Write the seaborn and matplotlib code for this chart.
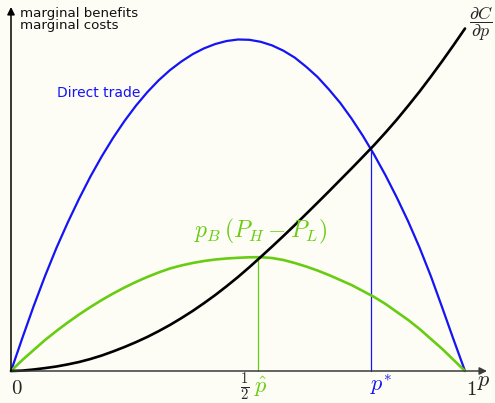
import matplotlib
matplotlib.use('Agg')
import numpy as np
import pandas as pd
import seaborn as sns
import matplotlib.pyplot as plt

# values (heights in px above the p axis)
p = [0.0, 0.025, 0.05, 0.075, 0.10, 0.125, 0.15, 0.175, 0.20, 0.225, 0.25,
     0.275, 0.30, 0.325, 0.35, 0.375, 0.40, 0.425, 0.45, 0.475, 0.50,
     0.525, 0.55, 0.575, 0.60, 0.625, 0.65, 0.675, 0.70, 0.725, 0.75,
     0.775, 0.80, 0.825, 0.85, 0.875, 0.90, 0.925, 0.95, 0.975, 1.0]
direct_trade = [0, 33, 65, 95, 123, 148.5, 172.3, 194.5, 214.7, 233.2, 250,
                265.2, 278.7, 290.6, 300.8, 309.4, 316.8, 322.6, 327, 330, 331.5,
                331.2, 329.2, 325.6, 320.3, 313.4, 304.3, 294.1, 281.7, 268.2, 252.5,
                235.2, 216.2, 195.6, 173.3, 149.4, 123.3, 94.6, 63.2, 31.2, 0]
pb_gap = [0, 11, 21, 31, 40, 48.5, 56.5, 64, 71, 77.5, 83.5,
          89, 94, 98.5, 102.5, 105.5, 108, 110, 111.5, 112.5, 113.2,
          113.7, 113.8, 113, 111, 108, 104.5, 100.5, 96, 91, 86,
          80, 74, 67, 59, 51, 42, 32, 22, 11, 0]
marginal_cost = [0, 0.4, 1.5, 2.9, 4.5, 6.6, 9, 12, 15.5, 19.6, 24,
                 28.8, 34, 39.8, 46, 52.8, 60, 67.8, 76, 84.8, 94,
                 103.8, 114, 124.4, 135, 145.9, 157, 168.2, 179.5, 191, 202.5,
                 214.2, 226, 238.5, 251.5, 265.3, 279.5, 294.5, 310, 326, 342.5]
p_hat = 0.545
p_star = 0.792

BLUE = '#1414f5'
GREEN = '#68cc12'
BG = '#fdfdf6'

sns.set_theme(style='white')
plt.rcParams['mathtext.fontset'] = 'cm'
plt.rcParams['font.family'] = ['DejaVu Sans']

df = pd.DataFrame({'p': p, 'direct': direct_trade, 'green': pb_gap, 'cost': marginal_cost})

fig = plt.figure(figsize=(4.95, 4.03), dpi=100, facecolor=BG)
ax = fig.add_axes([0, 0, 1, 1])
ax.set_facecolor(BG)

# pixel helpers for text placement (origin at 11,371 ; 454 px per unit p)
def X(px):
    return (px - 11) / 454.0
def Y(py):
    return 371 - py

ax.set_xlim(X(0), X(495))
ax.set_ylim(Y(403), Y(0))
ax.axis('off')

# vertical guide lines
top_hat = np.interp(p_hat, p, pb_gap)
top_star = np.interp(p_star, p, direct_trade)
ax.plot([p_hat, p_hat], [0, top_hat], color=GREEN, lw=0.9)
ax.plot([p_star, p_star], [0, top_star], color=BLUE, lw=0.9)

sns.lineplot(data=df, x='p', y='direct', ax=ax, color=BLUE, lw=1.6)
sns.lineplot(data=df, x='p', y='green', ax=ax, color=GREEN, lw=1.9)
sns.lineplot(data=df, x='p', y='cost', ax=ax, color='black', lw=1.9)

# axes with arrows
ax.annotate('', xy=(X(487), 0), xytext=(0, 0),
            arrowprops=dict(arrowstyle='-|>', color='#3a3a3a', lw=1.1, mutation_scale=11,
                            shrinkA=0, shrinkB=0))
ax.annotate('', xy=(0, Y(7)), xytext=(0, 0),
            arrowprops=dict(arrowstyle='-|>', color='black', lw=1.1, mutation_scale=11,
                            shrinkA=0, shrinkB=0))

ax.text(X(20), Y(13), 'marginal benefits', fontsize=9.6, ha='left', va='center', color='#111111')
ax.text(X(20), Y(26), 'marginal costs', fontsize=9.6, ha='left', va='center', color='#111111')
ax.text(X(99), Y(93), 'Direct trade', fontsize=10, ha='center', va='center', color=BLUE)
ax.text(X(261), Y(231), r'$p_B\,(P_H - P_L)$', fontsize=17, ha='center', va='center', color=GREEN)
ax.text(X(481), Y(24), r'$\dfrac{\partial C}{\partial p}$', fontsize=13, ha='center', va='center')

ax.text(X(17), Y(388), r'$0$', fontsize=15, ha='center', va='center')
ax.text(X(245), Y(387), r'$\frac{1}{2}$', fontsize=15, ha='center', va='center')
ax.text(X(261), Y(387), r'$\hat{p}$', fontsize=16, ha='center', va='center', color=GREEN)
ax.text(X(381), Y(385), r'$p^{*}$', fontsize=16, ha='center', va='center', color=BLUE)
ax.text(X(471), Y(389), r'$1$', fontsize=15, ha='center', va='center')
ax.text(X(484), Y(382), r'$p$', fontsize=16, ha='center', va='center')

fig.savefig('out.png', dpi=100, facecolor=BG)
